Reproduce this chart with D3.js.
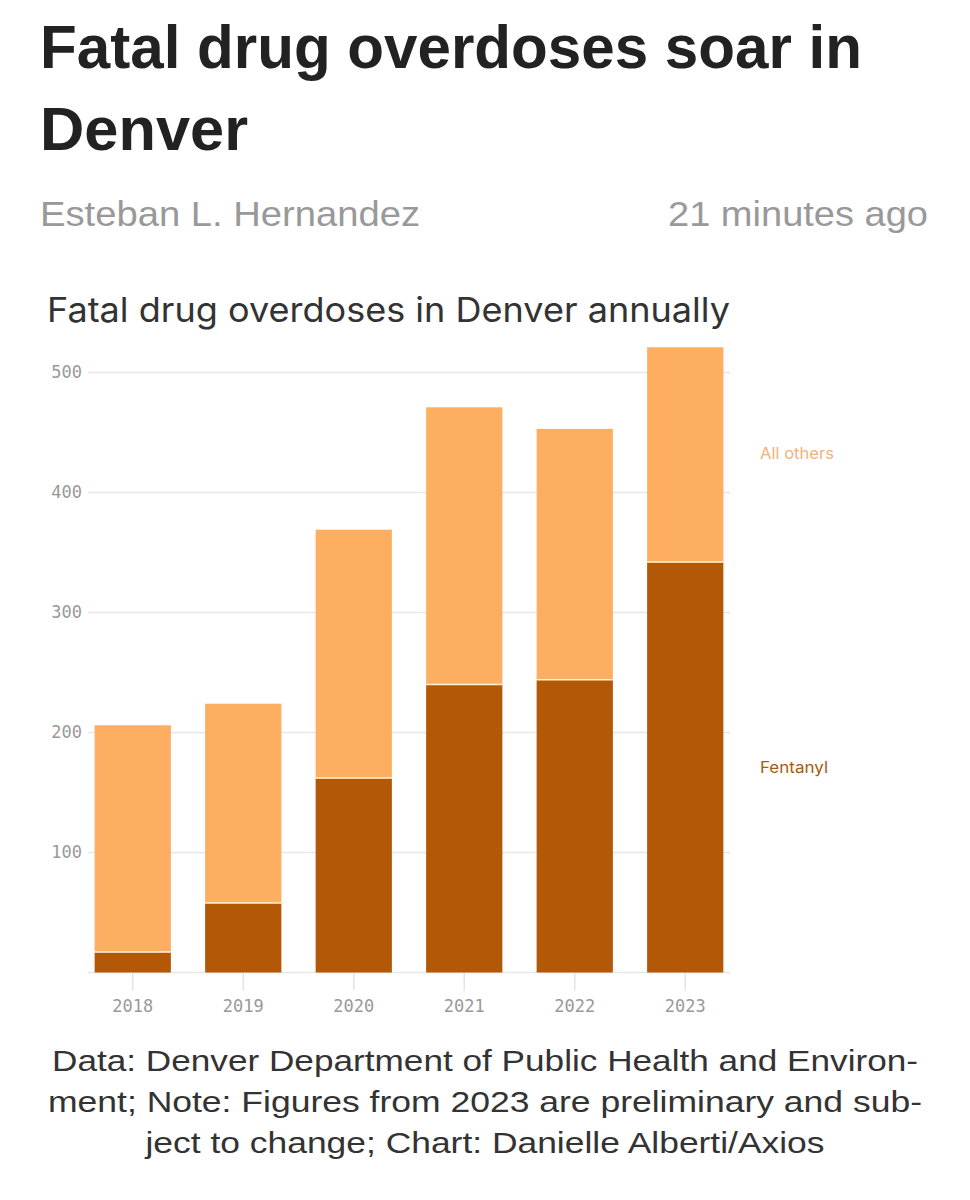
<!DOCTYPE html>
<html>
<head>
<meta charset="utf-8">
<script src="https://cdn.jsdelivr.net/npm/d3@7"></script>
<style>
  html, body { margin: 0; padding: 0; background: #fff; }
  svg { display: block; }
</style>
</head>
<body>
<svg id="chart" width="970" height="1200"></svg>
<script>
// ---- Data ----
const years = ["2018", "2019", "2020", "2021", "2022", "2023"];
const fentanyl = [17, 58, 162, 240, 244, 342];
const allOthers = [189, 166, 207, 231, 209, 179];
const seriesNames = ["Fentanyl", "All others"];
const yTicks = [100, 200, 300, 400, 500];
const gridValues = [0, 100, 200, 300, 400, 500];

const headline = ["Fatal drug overdoses soar in", "Denver"];
const author = "Esteban L. Hernandez";
const timeAgo = "21 minutes ago";
const chartTitle = "Fatal drug overdoses in Denver annually";
const footnote = [
  "Data: Denver Department of Public Health and Environ-",
  "ment; Note: Figures from 2023 are preliminary and sub-",
  "ject to change; Chart: Danielle Alberti/Axios"
];

const colors = { "Fentanyl": "#b35806", "All others": "#fdae61" };
const labelColors = { "Fentanyl": "#a65a12", "All others": "#f0b37a" };

// ---- Setup ----
const svg = d3.select("#chart");

function fitText(sel, width) {
  sel.attr("textLength", width).attr("lengthAdjust", "spacingAndGlyphs");
  return sel;
}

// Headline
const hl = svg.append("g");
fitText(hl.append("text").attr("x", 40).attr("y", 68)
  .attr("font-family", "Liberation Sans, Arial, sans-serif")
  .attr("font-weight", "bold").attr("font-size", 62).attr("fill", "#222")
  .text(headline[0]), 822);
fitText(hl.append("text").attr("x", 40).attr("y", 150)
  .attr("font-family", "Liberation Sans, Arial, sans-serif")
  .attr("font-weight", "bold").attr("font-size", 62).attr("fill", "#222")
  .text(headline[1]), 208);

// Byline
fitText(svg.append("text").attr("x", 40).attr("y", 226)
  .attr("font-family", "Liberation Sans, Arial, sans-serif")
  .attr("font-size", 35).attr("fill", "#999")
  .text(author), 380);
fitText(svg.append("text").attr("x", 668).attr("y", 226)
  .attr("font-family", "Liberation Sans, Arial, sans-serif")
  .attr("font-size", 35).attr("fill", "#999")
  .text(timeAgo), 260);

// Chart title
fitText(svg.append("text").attr("x", 47).attr("y", 322)
  .attr("font-family", "Inter, 'Noto Sans', sans-serif")
  .attr("font-size", 34).attr("fill", "#333")
  .text(chartTitle), 683);

// ---- Chart ----
const x = d3.scaleBand().domain(years).range([88, 730]).paddingInner(0.31).paddingOuter(0.06);
const y = d3.scaleLinear().domain([0, 500]).range([972.5, 372.5]);

// gridlines
const grid = svg.append("g");
grid.selectAll("line").data(gridValues).join("line")
  .attr("x1", 88).attr("x2", 730)
  .attr("y1", d => y(d)).attr("y2", d => y(d))
  .attr("stroke", "#e6e6e6").attr("stroke-width", 1.5);

// y axis labels
const yAxis = d3.axisLeft(y).tickValues(yTicks).tickSize(0).tickPadding(0);
const yg = svg.append("g").attr("transform", "translate(82,0)").call(yAxis);
yg.select(".domain").remove();
yg.selectAll("text")
  .attr("font-family", "'DejaVu Sans Mono', 'Liberation Mono', monospace")
  .attr("font-size", 17).attr("fill", "#999");

// x axis
const xAxis = d3.axisBottom(x).tickSize(18).tickPadding(9);
const xg = svg.append("g").attr("transform", `translate(0,${y(0)})`).call(xAxis);
xg.select(".domain").remove();
xg.selectAll(".tick line").attr("stroke", "#e3e3e3").attr("stroke-width", 1.5);
xg.selectAll("text")
  .attr("font-family", "'DejaVu Sans Mono', 'Liberation Mono', monospace")
  .attr("font-size", 17).attr("fill", "#999");

// stacked bars
const rows = years.map((yr, i) => ({ year: yr, "Fentanyl": fentanyl[i], "All others": allOthers[i] }));
const stack = d3.stack().keys(seriesNames)(rows);

const bars = svg.append("g");
bars.selectAll("g").data(stack).join("g")
  .attr("fill", d => colors[d.key])
  .selectAll("rect").data(d => d).join("rect")
  .attr("x", d => x(d.data.year))
  .attr("width", x.bandwidth())
  .attr("y", d => y(d[1]))
  .attr("height", d => y(d[0]) - y(d[1]));

// separator line between segments
bars.append("g").selectAll("line").data(rows).join("line")
  .attr("x1", d => x(d.year)).attr("x2", d => x(d.year) + x.bandwidth())
  .attr("y1", d => y(d["Fentanyl"])).attr("y2", d => y(d["Fentanyl"]))
  .attr("stroke", "#fff3d6").attr("stroke-width", 1.5);

// series labels
const labelY = { "All others": 459, "Fentanyl": 773 };
const labelW = { "All others": 74, "Fentanyl": 68 };
seriesNames.forEach(k => {
  fitText(svg.append("text").attr("x", 760).attr("y", labelY[k])
    .attr("font-family", "Inter, 'Noto Sans', sans-serif")
    .attr("font-size", 16).attr("fill", labelColors[k])
    .text(k), labelW[k]);
});

// footnote
const fnW = [866, 874, 679];
const fnY = [1071, 1112, 1153];
footnote.forEach((t, i) => {
  fitText(svg.append("text").attr("x", 485).attr("y", fnY[i])
    .attr("text-anchor", "middle")
    .attr("font-family", "Liberation Sans, Arial, sans-serif")
    .attr("font-size", 30).attr("fill", "#333")
    .text(t), fnW[i]);
});
</script>
</body>
</html>
